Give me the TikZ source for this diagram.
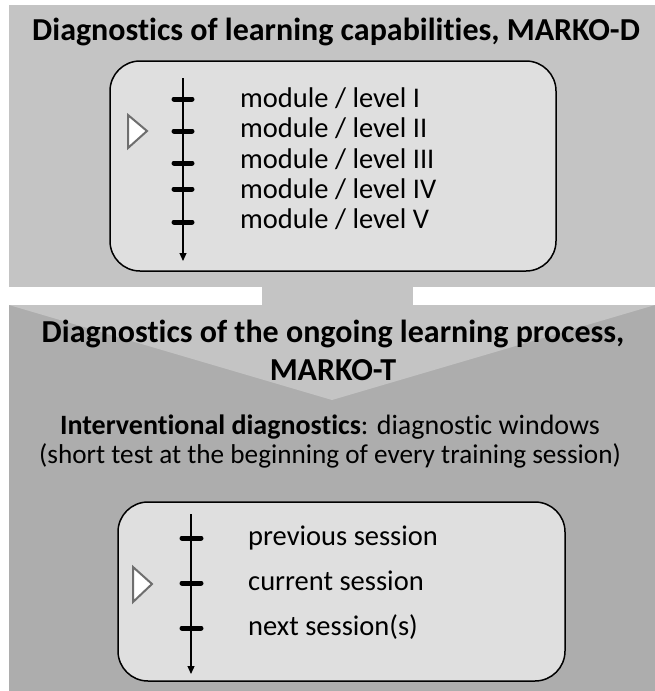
\documentclass[tikz,border=0pt]{standalone}
\usepackage{fontspec}
\setmainfont{Carlito}[Ligatures=NoCommon]
\usetikzlibrary{arrows.meta}
\definecolor{panelA}{HTML}{C4C4C4}
\definecolor{panelB}{HTML}{ADADAD}
\definecolor{boxfill}{HTML}{DFDFDF}
\definecolor{marker}{HTML}{6E6E6E}
\begin{document}
\begin{tikzpicture}[x=1pt,y=-1pt,
  titletext/.style={font=\fontsize{32}{36}\selectfont\bfseries, anchor=base, inner sep=0pt},
  bodytext/.style={font=\fontsize{28.5}{32}\selectfont, anchor=base west, inner sep=0pt},
  centertext/.style={font=\fontsize{28}{32}\selectfont, anchor=base, inner sep=0pt},
  inbox/.style={draw=black, line width=1.5pt, fill=boxfill, rounded corners=30pt},
  tickmark/.style={line width=5pt, line cap=round},
  axisline/.style={line width=1.2pt, -{Triangle[length=8pt,width=7pt]}},
  pointer/.style={draw=marker, line width=2pt, fill=white, line join=miter}]
\useasboundingbox (0,0) rectangle (655,691);
% panels
\fill[panelA] (9,5) rectangle (655,287);
\fill[panelA] (262,280) rectangle (413,310);
\fill[panelB] (9,305) rectangle (655,691);
\fill[panelA] (9,305) -- (655,305) -- (332,400) -- cycle;
% titles
\node[titletext] (t1) at (336,40) {Diagnostics of learning capabilities, MARKO-D};
\node[titletext] (t2) at (333,342) {Diagnostics of the ongoing learning process,};
\node[titletext] (t3) at (333,380) {MARKO-T};
\node[centertext] (i1) at (330,434) {\textbf{Interventional diagnostics}: diagnostic windows};
\node[centertext, font=\fontsize{27.2}{32}\selectfont] (i2) at (330,463) {(short test at the beginning of every training session)};
% top inner box
\draw[inbox] (110,61) rectangle (556,271);
\coordinate (a1s) at (183,78);
\coordinate (a1e) at (183,261);
\draw[axisline] (a1s) -- (a1e);
\foreach \yy in {99,131,163,189,222} {\draw[tickmark] (174,\yy) -- (192,\yy);}
\draw[pointer] (128,115) -- (147,131) -- (128,148) -- cycle;
\node[bodytext] (m1) at (240,107) {module / level I};
\node[bodytext] (m2) at (240,137.5) {module / level II};
\node[bodytext] (m3) at (240,168) {module / level III};
\node[bodytext] (m4) at (240,198.5) {module / level IV};
\node[bodytext] (m5) at (240,228) {module / level V};
% bottom inner box
\draw[inbox] (118,502) rectangle (565,681);
\coordinate (a2s) at (191,514);
\coordinate (a2e) at (191,674);
\draw[axisline] (a2s) -- (a2e);
\foreach \yy in {538,583,628} {\draw[tickmark] (182,\yy) -- (201,\yy);}
\draw[pointer] (133,567) -- (152,584) -- (133,602) -- cycle;
\node[bodytext] (s1) at (248,545) {previous session};
\node[bodytext] (s2) at (248,590) {current session};
\node[bodytext] (s3) at (248,635) {next session(s)};
\end{tikzpicture}
\end{document}
